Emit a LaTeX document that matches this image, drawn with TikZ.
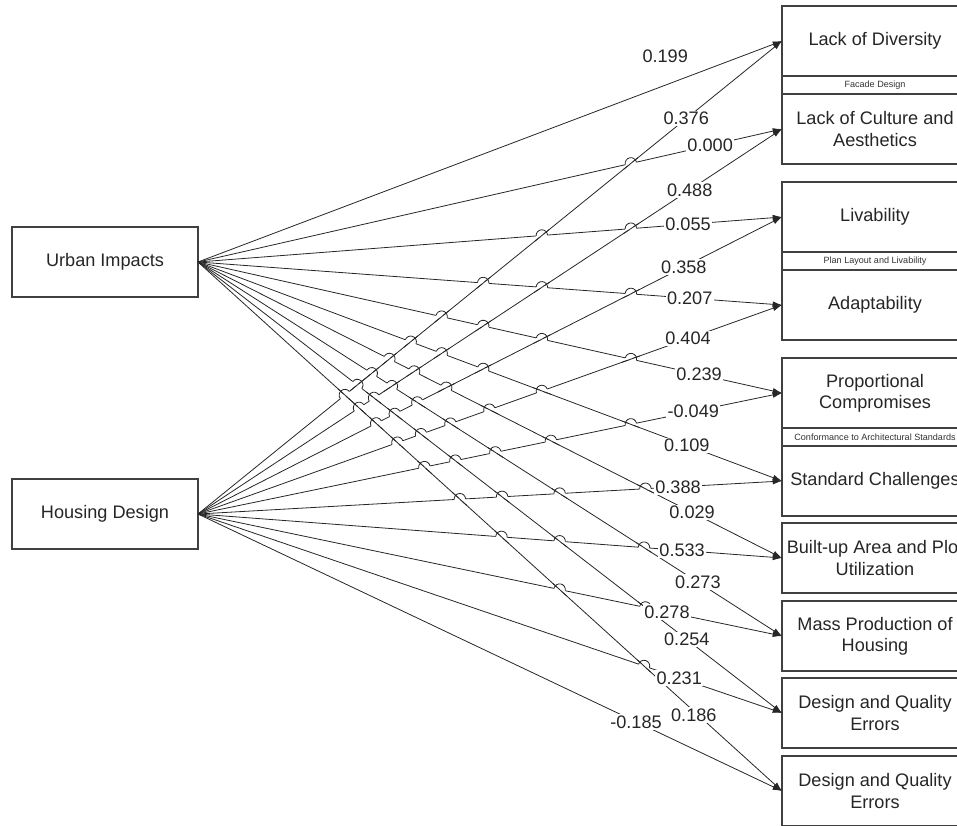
\documentclass[tikz,border=0pt]{standalone}
\usepackage{fontspec}
\setmainfont{Liberation Sans}
\usetikzlibrary{arrows.meta}
\begin{document}
\begin{tikzpicture}[x=0.75pt,y=-0.75pt,
  box/.style={draw=black!75, line width=0.9pt, fill=white, minimum width=139.5pt, minimum height=52.5pt, inner sep=0pt, outer sep=0pt, align=center, font=\fontsize{13.6}{16}\selectfont, text=black!85},
  strip/.style={draw=black!75, line width=0.9pt, minimum width=139.5pt, minimum height=13.5pt, inner sep=0pt, outer sep=0pt, font=\fontsize{6.8}{7.5}\selectfont, text=black!80},
  conn/.style={draw=black!85, line width=0.6pt},
  arr/.style={conn, -{Latex[length=7pt,width=4.5pt]}},
  lbl/.style={fill=white, inner sep=1pt, font=\fontsize{13.6}{16}\selectfont, text=black!85},
]
\useasboundingbox (0,0) rectangle (957,825);
\clip (0,0) rectangle (957,825);

% source boxes
\node[box] (ui) at (105,262) {Urban Impacts};
\node[box] (hd) at (105,514) {Housing Design};

% target boxes
\node[box] (lod) at (875,41) {Lack of Diversity};
\node[strip] (fac) at (875,85) {Facade Design};
\node[box] (loc) at (875,129) {Lack of Culture and\\Aesthetics};
\node[box] (liv) at (875,217) {Livability};
\node[strip] (plan) at (875,261) {Plan Layout and Livability};
\node[box] (ada) at (875,305) {Adaptability};
\node[box] (pro) at (875,393) {Proportional\\Compromises};
\node[strip] (conf) at (875,437) {Conformance to Architectural Standards};
\node[box] (std) at (875,481) {Standard Challenges};
\node[box] (bua) at (875,558) {Built-up Area and Plot\\Utilization};
\node[box] (mas) at (875,636) {Mass Production of\\Housing};
\node[box] (dqa) at (875,713) {Design and Quality\\Errors};
\node[box] (dqb) at (875,791) {Design and Quality\\Errors};

% connectors
\foreach \t in {lod,loc,liv,ada,pro,std,bua,mas,dqa,dqb}{
  \draw[arr] (ui.east) -- (\t.west);
  \draw[arr] (hd.east) -- (\t.west);
}

% line hops at crossings
\def\tys{{41,129,217,305,393,481,558,636,713,791}}
\foreach \i in {1,...,9}{
  \pgfmathtruncatemacro\jmax{\i-1}
  \foreach \j in {0,...,\jmax}{
    \pgfmathsetmacro\ti{\tys[\i]}
    \pgfmathsetmacro\tj{\tys[\j]}
    \pgfmathsetmacro\sa{(\ti-262)/584}
    \pgfmathsetmacro\sb{(\tj-514)/584}
    \pgfmathsetmacro\dd{252/(\sa-\sb)}
    \pgfmathsetmacro\hx{198+\dd}
    \pgfmathsetmacro\hy{262+\sa*\dd}
    \pgfmathsetmacro\ths{abs(\sa)<abs(\sb) ? -atan(\sa) : -atan(\sb)}
    \pgfmathsetmacro\thp{abs(\sa)<abs(\sb) ? -atan(\sb) : -atan(\sa)}
    \draw[white, line width=2.2pt] (\hx,\hy) ++(\ths+180:4.3pt) -- ++(\ths:8.6pt);
    \draw[conn] (\hx,\hy) ++(\thp+180:7pt) -- ++(\thp:14pt);
    \draw[conn] (\hx,\hy) ++(\ths+180:4.3pt) arc[start angle=\ths+180, end angle=\ths, radius=4.3pt];
  }
}

% labels on Urban Impacts connectors
\path (ui.east) -- node[lbl, pos=0.8, yshift=22pt] (u-lod) {0.199} (lod.west);
\foreach \t/\p/\l in {loc/0.877/0.000, liv/0.839/0.055, ada/0.842/0.207, pro/0.858/0.239, std/0.837/0.109, bua/0.846/0.029, mas/0.856/0.273, dqa/0.837/0.254}{
  \path (ui.east) -- node[lbl, pos=\p] (u-\t) {\l} (\t.west);
}
\path (ui.east) -- node[lbl, pos=0.849, yshift=-3pt] (u-dqb) {0.186} (dqb.west);

% labels on Housing Design connectors
\foreach \t/\p/\l in {lod/0.836/0.376, loc/0.842/0.488, liv/0.832/0.358, ada/0.839/0.404, pro/0.848/-0.049, std/0.822/0.388, bua/0.829/0.533, mas/0.803/0.278, dqa/0.824/0.231, dqb/0.75/-0.185}{
  \path (hd.east) -- node[lbl, pos=\p] (h-\t) {\l} (\t.west);
}
\end{tikzpicture}
\end{document}
